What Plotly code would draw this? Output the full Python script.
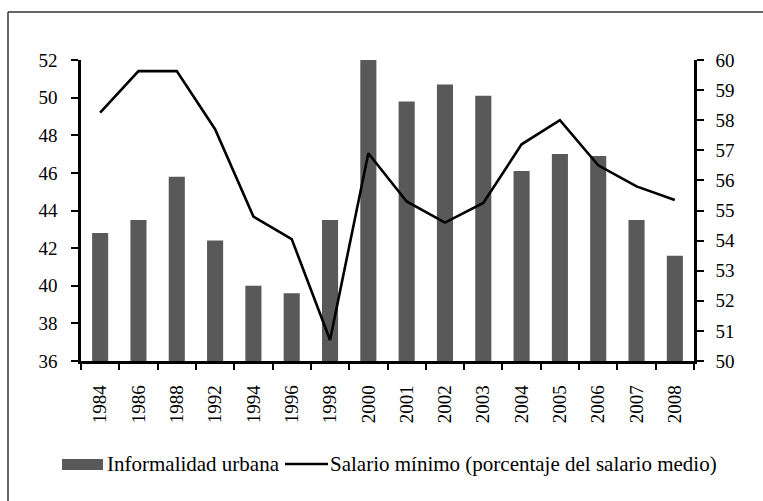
import plotly.graph_objects as go

years = ["1984", "1986", "1988", "1992", "1994", "1996", "1998", "2000",
         "2001", "2002", "2003", "2004", "2005", "2006", "2007", "2008"]
informalidad = [42.8, 43.5, 45.8, 42.4, 40.0, 39.6, 43.5, 52.0,
                49.8, 50.7, 50.1, 46.1, 47.0, 46.9, 43.5, 41.6]
salario_minimo = [58.25, 59.63, 59.63, 57.7, 54.8, 54.05, 50.7, 56.9,
                  55.3, 54.6, 55.25, 57.2, 58.0, 56.5, 55.8, 55.35]

left_ticks = list(range(36, 53, 2))
right_ticks = list(range(50, 61, 1))

FONT = "Liberation Serif, Times New Roman, serif"
W, H = 763, 501
L, R, T, B = 81, 69, 60, 140
PW, PH = W - L - R, H - T - B


def px(x):
    return (x - L) / PW


def py(y):
    return (H - B - y) / PH


fig = go.Figure()
fig.add_trace(go.Bar(x=years, y=informalidad, name="Informalidad urbana",
                     marker=dict(color="#595959", line=dict(width=0)),
                     yaxis="y", showlegend=False))
fig.add_trace(go.Scatter(x=years, y=salario_minimo, mode="lines",
                         name="Salario mínimo (porcentaje del salario medio)",
                         line=dict(color="black", width=2.6),
                         yaxis="y2", showlegend=False))

fig.update_layout(
    width=W, height=H,
    margin=dict(l=L, r=R, t=T, b=B),
    paper_bgcolor="white", plot_bgcolor="white",
    font=dict(family=FONT, size=19, color="black"),
    bargap=0.58,
    xaxis=dict(type="category", showgrid=False, showline=True, linecolor="black",
               linewidth=2.5, ticks="outside", tickson="boundaries", ticklen=6,
               tickwidth=2, tickcolor="black", tickangle=-90,
               ticklabelstandoff=14, tickfont=dict(size=19)),
    yaxis=dict(range=[36, 52], tickvals=left_ticks, showgrid=False, showline=True,
               linecolor="black", linewidth=2.5, ticks="outside", ticklen=7,
               tickwidth=2, tickcolor="black", ticklabelstandoff=10, zeroline=False),
    yaxis2=dict(range=[50, 60], tickvals=right_ticks, overlaying="y", side="right",
                showgrid=False, showline=True, linecolor="black", linewidth=2.5,
                ticks="outside", ticklen=7, tickwidth=2, tickcolor="black",
                ticklabelstandoff=8, zeroline=False),
    shapes=[
        dict(type="line", xref="paper", yref="paper", x0=px(8), x1=px(800),
             y0=py(12), y1=py(12), line=dict(color="#333333", width=1.5)),
        dict(type="line", xref="paper", yref="paper", x0=px(8), x1=px(8),
             y0=py(12), y1=py(560), line=dict(color="#333333", width=1.5)),
        dict(type="rect", xref="paper", yref="paper", x0=px(62), x1=px(103),
             y0=py(470), y1=py(459), fillcolor="#595959", line=dict(width=0)),
        dict(type="line", xref="paper", yref="paper", x0=px(285), x1=px(328),
             y0=py(464), y1=py(464), line=dict(color="black", width=2.5)),
    ],
    annotations=[
        dict(text="Informalidad urbana", xref="paper", yref="paper",
             x=px(105), y=py(464), xanchor="left", yanchor="middle",
             showarrow=False, font=dict(size=21)),
        dict(text="Salario mínimo (porcentaje del salario medio)", xref="paper",
             yref="paper", x=px(328), y=py(464), xanchor="left", yanchor="middle",
             showarrow=False, font=dict(size=21)),
    ],
)

fig.write_html("out.html", config={"displayModeBar": False},
               post_script="document.body.style.margin='0px';document.body.style.padding='0px';")
